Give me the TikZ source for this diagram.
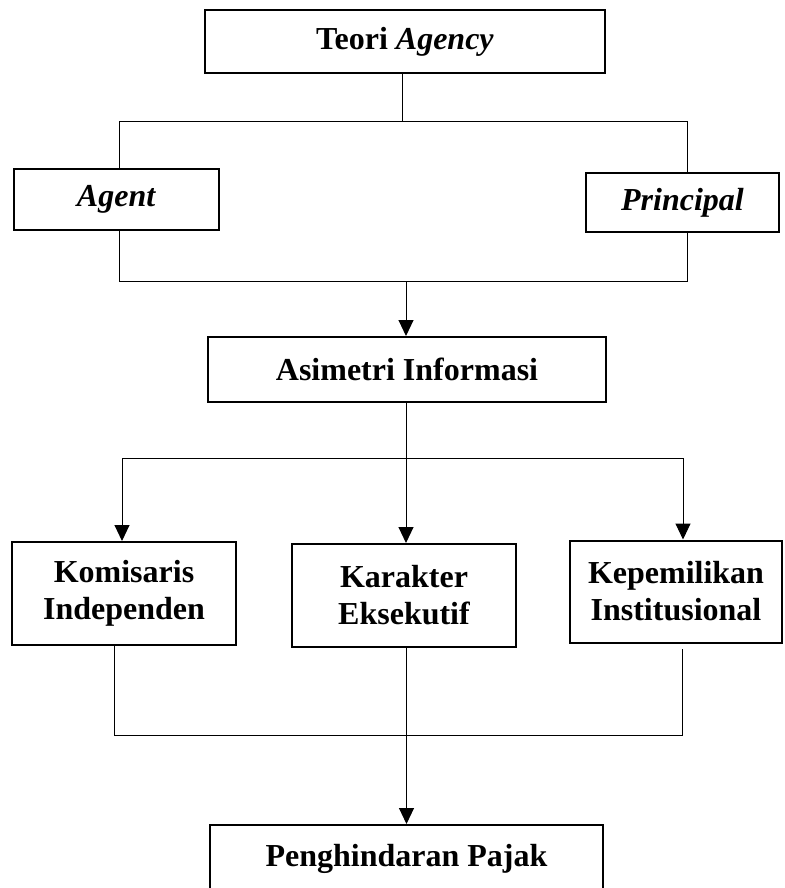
\documentclass[tikz,border=0pt]{standalone}
\usepackage{fontspec}
\setmainfont{Liberation Serif}
\usetikzlibrary{arrows.meta,calc}

\tikzset{
	box/.style={draw, line width=2pt, inner sep=0pt, align=center, font=\fontsize{32}{37}\selectfont\bfseries},
	link/.style={line width=1pt},
	arrow/.style={link, -{Triangle[length=16pt,width=15pt]}}
}

\begin{document}
\begin{tikzpicture}[x=1pt,y=-1pt]
	\useasboundingbox (0,0) rectangle (784,888);
	
	\node[box, minimum width=400pt, minimum height=63pt] (teori) at (405,41.5) {Teori \textit{Agency}};
	\node[box, minimum width=205pt, minimum height=61pt] (agent) at (116.5,199.5) {\textit{Agent}};
	\node[box, minimum width=193pt, minimum height=59pt] (principal) at (682.5,202.5) {\textit{Principal}};
	\node[box, minimum width=398pt, minimum height=65pt] (asimetri) at (407,369.5) {Asimetri Informasi};
	\node[box, minimum width=224pt, minimum height=103pt] (komisaris) at (124,593.5) {Komisaris\\Independen};
	\node[box, minimum width=224pt, minimum height=103pt] (karakter) at (404,595.5) {Karakter\\Eksekutif};
	\node[box, minimum width=212pt, minimum height=102pt] (kepemilikan) at (676,591.5) {Kepemilikan\\Institusional};
	\node[box, minimum width=393pt, minimum height=67pt] (penghindaran) at (406.5,858.5) {Penghindaran Pajak};
	
	\coordinate (busTop) at (402,122);
	\coordinate (leftTop) at (119,122);
	\coordinate (rightTop) at (687,122);
	\coordinate (leftMid) at (119,281);
	\coordinate (rightMid) at (687,281);
	\coordinate (busMid) at (406,281);
	\coordinate (busLow) at (406,458);
	\coordinate (leftLow) at (122,458);
	\coordinate (rightLow) at (683,458);
	\coordinate (leftBot) at (114.5,735);
	\coordinate (rightBot) at (682.5,735);
	
	\draw[link] (busTop |- teori.south) -- (busTop);
	\draw[link] (leftTop |- agent.north) -- (leftTop) -- (rightTop) -- (rightTop |- principal.north);
	\draw[link] (leftMid |- agent.south) -- (leftMid) -- (rightMid) -- (rightMid |- principal.south);
	\draw[arrow] (busMid) -- (busMid |- asimetri.north);
	
	\draw[link] (busLow |- asimetri.south) -- (busLow);
	\draw[link] (leftLow) -- (rightLow);
	\draw[arrow] (leftLow) -- (leftLow |- komisaris.north);
	\draw[arrow] (busLow) -- (busLow |- karakter.north);
	\draw[arrow] (rightLow) -- (rightLow |- kepemilikan.north);
	
	\draw[link] (komisaris.south -| leftBot) -- (leftBot) -- (rightBot) -- ($(kepemilikan.south -| rightBot)+(0,5)$);
	\draw[arrow] (penghindaran.north |- karakter.south) -- (penghindaran.north);
\end{tikzpicture}
\end{document}
